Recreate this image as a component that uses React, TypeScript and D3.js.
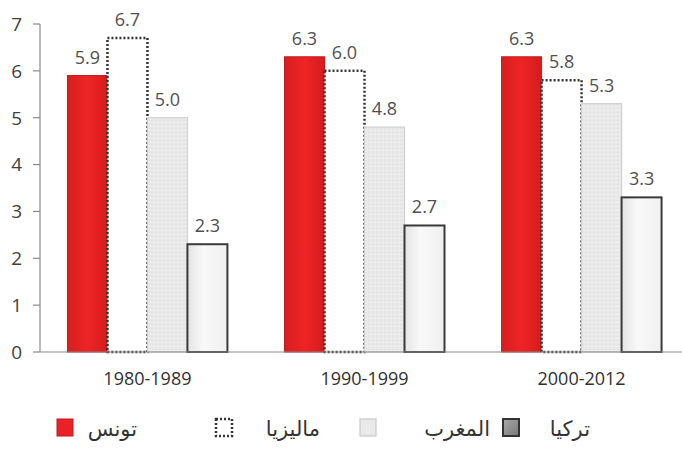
import React from "react";
import * as d3 from "d3";

const periods = ["1980-1989", "1990-1999", "2000-2012"];
const countries = ["تونس", "ماليزيا", "المغرب", "تركيا"];
const tunisia = [5.9, 6.3, 6.3];
const malaysia = [6.7, 6.0, 5.8];
const morocco = [5.0, 4.8, 5.3];
const turkey = [2.3, 2.7, 3.3];
const yTicks = [0, 1, 2, 3, 4, 5, 6, 7];

const series = [tunisia, malaysia, morocco, turkey];

const W = 682, H = 452;
const numFont = "'Open Sans', 'DejaVu Sans', sans-serif";

export default function App() {
  const x0 = d3.scaleBand<string>().domain(periods).range([39, 690]).paddingInner(0.263).paddingOuter(0.131);
  const x1 = d3.scaleBand<number>().domain([0, 1, 2, 3]).range([0, x0.bandwidth()]).padding(0);
  const y = d3.scaleLinear().domain([0, 7]).range([352, 24]);

  const styleFor = (s: number) => {
    switch (s) {
      case 0: return { fill: "url(#redGrad)", stroke: "#c41a1a", strokeWidth: 1, dash: undefined };
      case 1: return { fill: "#ffffff", stroke: "#333", strokeWidth: 2.5, dash: "2,2" };
      case 2: return { fill: "url(#dots)", stroke: "#cfcfcf", strokeWidth: 1.2, dash: undefined };
      default: return { fill: "url(#greyGrad)", stroke: "#3a3a3a", strokeWidth: 2, dash: undefined };
    }
  };

  const legendX = [57, 216, 360, 503];
  const legendTextRight = [137, 320, 490, 590];

  return (
    <svg width={W} height={H} style={{ position: "absolute", left: 0, top: 0, background: "#fff" }}>
      <defs>
        <linearGradient id="redGrad" x1="0" x2="1" y1="0" y2="0">
          <stop offset="0" stopColor="#d81e1e" />
          <stop offset="0.5" stopColor="#ee2526" />
          <stop offset="1" stopColor="#d41c1c" />
        </linearGradient>
        <linearGradient id="greyGrad" x1="0" x2="1" y1="0" y2="0">
          <stop offset="0" stopColor="#e4e4e4" />
          <stop offset="0.4" stopColor="#f8f8f8" />
          <stop offset="1" stopColor="#f0f0f0" />
        </linearGradient>
        <linearGradient id="legGrey" x1="0" x2="1" y1="0" y2="1">
          <stop offset="0" stopColor="#aaa" />
          <stop offset="1" stopColor="#777" />
        </linearGradient>
        <pattern id="dots" width="4" height="4" patternUnits="userSpaceOnUse">
          <rect width="4" height="4" fill="#e9e9e9" />
          <rect x="0" y="0" width="1" height="1" fill="#dcdcdc" />
          <rect x="2" y="2" width="1" height="1" fill="#f4f4f4" />
        </pattern>
      </defs>

      {/* y axis */}
      <line x1={40} x2={40} y1={y(7)} y2={y(0)} stroke="#8a8a8a" strokeWidth={1.2} />
      {yTicks.map((t) => (
        <g key={t}>
          <line x1={33} x2={40} y1={y(t)} y2={y(t)} stroke="#8a8a8a" strokeWidth={1.2} />
          <text x={22} y={y(t)} dy="0.36em" textAnchor="end" fontFamily={numFont} fontSize={19} fill="#404040">{t}</text>
        </g>
      ))}

      {/* bars */}
      {periods.map((p, i) => (
        <g key={p} transform={`translate(${x0(p)},0)`}>
          {series.map((s, si) => {
            const st = styleFor(si);
            const bx = x1(si)!;
            const bw = x1.bandwidth();
            return (
              <g key={si}>
                <rect x={bx} y={y(s[i])} width={bw} height={y(0) - y(s[i])} fill={st.fill} stroke={st.stroke}
                  strokeWidth={st.strokeWidth} strokeDasharray={st.dash} />
                <text x={bx + bw / 2} y={y(s[i]) - 12} textAnchor="middle" fontFamily={numFont} fontSize={18} fill="#505050">
                  {s[i].toFixed(1)}
                </text>
              </g>
            );
          })}
        </g>
      ))}

      {/* x axis */}
      <line x1={40} x2={W} y1={y(0)} y2={y(0)} stroke="#8a8a8a" strokeWidth={1.2} />
      {periods.map((p) => (
        <text key={p} x={x0(p)! + x0.bandwidth() / 2} y={385} textAnchor="middle" fontFamily={numFont} fontSize={18} fill="#303030">{p}</text>
      ))}

      {/* legend */}
      {countries.map((c, i) => {
        const lx = legendX[i];
        let sw;
        if (i === 0) sw = <rect x={lx} y={419} width={16} height={17} fill="#e82226" stroke="#c41a1a" />;
        else if (i === 1) sw = <rect x={lx} y={419} width={16} height={17} fill="#fff" stroke="#333" strokeWidth={2.5} strokeDasharray="2,2" />;
        else if (i === 2) sw = <rect x={lx} y={419} width={16} height={17} fill="#eaeaea" stroke="#c8c8c8" strokeWidth={1.2} />;
        else sw = <rect x={lx} y={419} width={16} height={17} fill="url(#legGrey)" stroke="#333" strokeWidth={2} />;
        return (
          <g key={c}>
            {sw}
            <text x={legendTextRight[i]} y={436} textAnchor="end" fontFamily="'DejaVu Sans', serif" fontSize={21} fill="#333">{c}</text>
          </g>
        );
      })}
    </svg>
  );
}
